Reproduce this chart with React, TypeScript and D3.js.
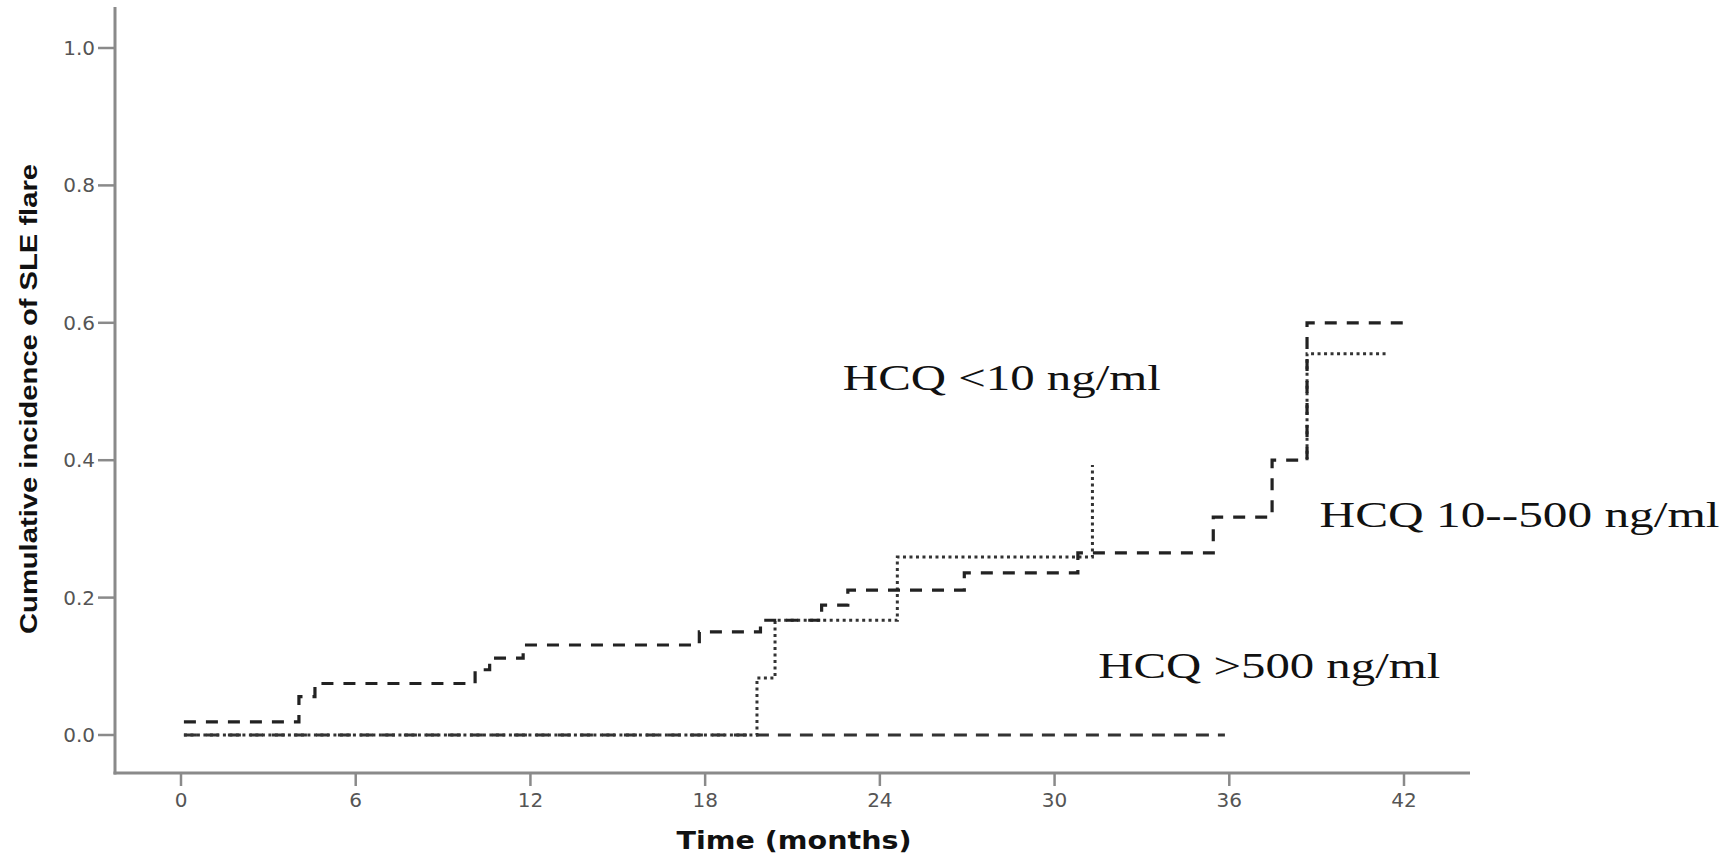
import React from 'react';
import * as d3 from 'd3';

// x ticks (months) and y ticks (cumulative incidence)
const timeTicks = [0, 6, 12, 18, 24, 30, 36, 42];
const incidenceTicks = [0, 0.2, 0.4, 0.6, 0.8, 1.0];

// HCQ 10--500 ng/ml (dashed step curve)
const midTimes = [0.1, 4.05, 4.6, 10.1, 10.6, 11.75, 17.8, 19.9, 22.0, 22.9, 26.9, 30.8, 35.45, 37.47, 38.67, 42.3];
const midValues = [0.019, 0.056, 0.075, 0.095, 0.112, 0.131, 0.15, 0.167, 0.189, 0.211, 0.236, 0.265, 0.317, 0.4, 0.6, 0.6];

// HCQ <10 ng/ml (dotted step curve)
const lowTimes = [0.1, 19.78, 20.4, 24.6, 31.3];
const lowValues = [0, 0.083, 0.167, 0.259, 0.393];

// dotted piece at the far right
const tailTimes = [38.67, 38.67, 41.4];
const tailValues = [0.4, 0.555, 0.555];

// HCQ >500 ng/ml (flat at zero)
const highTimes = [0.1, 35.85];
const highValues = [0, 0];

// curve labels: left edge (months), baseline (incidence), text length
const labels = [
  { text: 'HCQ <10 ng/ml', t: 22.73, v: 0.502, len: 318 },
  { text: 'HCQ 10--500 ng/ml', t: 39.1, v: 0.303, len: 400 },
  { text: 'HCQ >500 ng/ml', t: 31.5, v: 0.083, len: 342 },
];

const width = 1731;
const height = 855;

const x = d3.scaleLinear().domain([0, 42]).range([181, 1404]);
const y = d3.scaleLinear().domain([0, 1]).range([735, 48]);

const stepLine = d3
  .line<[number, number]>()
  .x(d => x(d[0]))
  .y(d => y(d[1]))
  .curve(d3.curveStepAfter);

const pts = (ts: number[], vs: number[]) => ts.map((t, i) => [t, vs[i]] as [number, number]);

const axisColor = '#8a8a8a';
const tickColor = '#555';

export default function App() {
  const x0 = 115;
  const yAxisY = 773;

  return (
    <div style={{ position: 'absolute', left: 0, top: 0 }}>
      <svg width={width} height={height} style={{ display: 'block', background: '#fff' }}>
        {/* axes */}
        <line x1={x0} y1={7} x2={x0} y2={yAxisY + 1.5} stroke={axisColor} strokeWidth={3} />
        <line x1={x0 - 1.5} y1={yAxisY} x2={1470} y2={yAxisY} stroke={axisColor} strokeWidth={3} />

        {incidenceTicks.map(v => (
          <g key={'y' + v}>
            <line x1={98} x2={x0} y1={y(v)} y2={y(v)} stroke={axisColor} strokeWidth={2.5} />
            <text
              x={95}
              y={y(v) + 7}
              textAnchor="end"
              fontFamily="DejaVu Sans, sans-serif"
              fontSize={20}
              fill={tickColor}
            >
              {v.toFixed(1)}
            </text>
          </g>
        ))}

        {timeTicks.map(t => (
          <g key={'x' + t}>
            <line x1={x(t)} x2={x(t)} y1={yAxisY} y2={786} stroke={axisColor} strokeWidth={2.5} />
            <text
              x={x(t)}
              y={807}
              textAnchor="middle"
              fontFamily="DejaVu Sans, sans-serif"
              fontSize={20}
              fill={tickColor}
            >
              {t}
            </text>
          </g>
        ))}

        <text
          x={794}
          y={849}
          textAnchor="middle"
          fontFamily="DejaVu Sans, sans-serif"
          fontWeight="bold"
          fontSize={25}
          fill="#111"
          textLength={235}
          lengthAdjust="spacingAndGlyphs"
        >
          Time (months)
        </text>

        <text
          transform="translate(37,399) rotate(-90)"
          textAnchor="middle"
          fontFamily="Liberation Sans, Arial, sans-serif"
          fontWeight="bold"
          fontSize={24}
          fill="#111"
          textLength={470}
          lengthAdjust="spacingAndGlyphs"
        >
          Cumulative incidence of SLE flare
        </text>

        {/* curves */}
        <path
          d={stepLine(pts(highTimes, highValues)) ?? ''}
          fill="none"
          stroke="#333"
          strokeWidth={3}
          strokeDasharray="13,9"
        />
        <path
          d={stepLine(pts(lowTimes, lowValues)) ?? ''}
          fill="none"
          stroke="#333"
          strokeWidth={3}
          strokeDasharray="3,3.5"
        />
        <path
          d={stepLine(pts(tailTimes, tailValues)) ?? ''}
          fill="none"
          stroke="#333"
          strokeWidth={3}
          strokeDasharray="3,3.5"
        />
        <path
          d={stepLine(pts(midTimes, midValues)) ?? ''}
          fill="none"
          stroke="#222"
          strokeWidth={3.2}
          strokeDasharray="12,10"
        />

        {labels.map(l => (
          <text
            key={l.text}
            x={x(l.t)}
            y={y(l.v)}
            fontFamily="Liberation Serif, Times New Roman, serif"
            fontSize={36}
            fill="#111"
            textLength={l.len}
            lengthAdjust="spacingAndGlyphs"
          >
            {l.text}
          </text>
        ))}
      </svg>
    </div>
  );
}
